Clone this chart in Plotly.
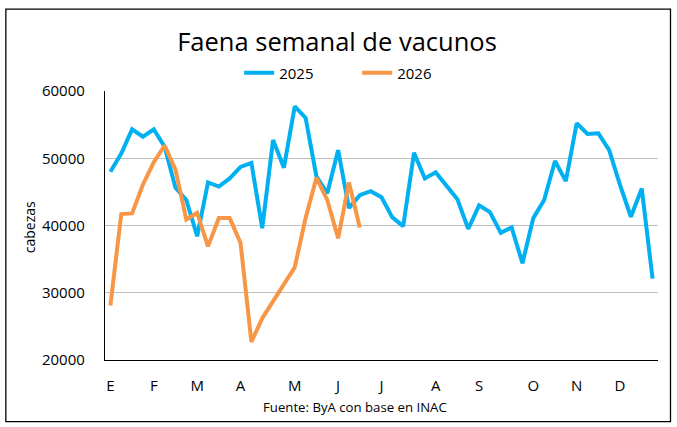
import plotly.graph_objects as go

# ---- data ----
weeks_2025 = list(range(51))
faena_2025 = [48000, 50700, 54300, 53200, 54300, 51700, 45600, 43800, 38400, 46400,
              45800, 47000, 48700, 49300, 39600, 52700, 48600, 57700, 56000, 47300,
              44800, 51200, 42600, 44500, 45100, 44200, 41200, 39900, 50800, 47000,
              47900, 46000, 43900, 39500, 43000, 42000, 38900, 39700, 34400, 41100,
              43800, 49600, 46600, 55200, 53600, 53700, 51200, 46000, 41300, 45500,
              32100]
weeks_2026 = list(range(24))
faena_2026 = [28100, 41700, 41800, 46100, 49400, 51900, 48300, 40900, 41900, 36900,
              41100, 41100, 37400, 22700, 26200, 28700, 31100, 33800, 41100, 47100,
              43800, 38100, 46400, 39700]
month_weeks = [0, 4, 8, 12, 17, 21, 25, 30, 34, 39, 43, 47]
month_labels = ["E", "F", "M", "A", "M", "J", "J", "A", "S", "O", "N", "D"]
y_ticks = [20000, 30000, 40000, 50000, 60000]

# ---- layout geometry (pixels) ----
W, H = 677, 427
PL, PR, PT, PB = 104.7, 658.0, 91.0, 360.3
pw, ph = PR - PL, PB - PT


def px(x):
    return (x - PL) / pw


def py(y):
    return (PB - y) / ph


FONT = "Open Sans"

fig = go.Figure()
fig.add_trace(go.Scatter(x=weeks_2025, y=faena_2025, mode="lines", name="2025",
                         line=dict(color="#00B0F0", width=4)))
fig.add_trace(go.Scatter(x=weeks_2026, y=faena_2026, mode="lines", name="2026",
                         line=dict(color="#F79646", width=4)))

fig.update_layout(
    width=W, height=H, autosize=False,
    margin=dict(l=PL, r=W - PR, t=PT, b=H - PB, pad=0, autoexpand=False),
    paper_bgcolor="white", plot_bgcolor="white",
    font=dict(family=FONT, color="black", size=14),
    showlegend=True,
    legend=dict(orientation="h", x=px(357), xanchor="center",
                y=py(73), yanchor="middle", font=dict(size=15, family=FONT),
                entrywidth=73, itemwidth=30, bgcolor="rgba(0,0,0,0)"),
    title=dict(text="Faena semanal de vacunos", x=337 / W, xanchor="center",
               y=1 - 42 / H, yanchor="middle", xref="container", yref="container",
               font=dict(size=25.5, family=FONT, color="black")),
    xaxis=dict(range=[-0.5, 50.5], tickmode="array", tickvals=month_weeks,
               ticktext=month_labels, showgrid=False, zeroline=False,
               showline=True, linecolor="black", linewidth=1.3,
               ticks="", ticklabelstandoff=12, tickfont=dict(size=15)),
    yaxis=dict(range=[20000, 60000], tickmode="array", tickvals=y_ticks,
               ticktext=[str(v) for v in y_ticks],
               showgrid=True, gridcolor="#BFBFBF", gridwidth=1, zeroline=False,
               showline=True, linecolor="black", linewidth=1.3,
               ticks="", ticklabelstandoff=16, tickfont=dict(size=15)),
    annotations=[
        dict(text="cabezas", textangle=-90, x=px(30), y=py(227), xref="paper",
             yref="paper", showarrow=False, xanchor="center", yanchor="middle",
             font=dict(size=14, family=FONT)),
        dict(text="Fuente: ByA con base en INAC", x=px(355), y=py(407.5), xref="paper",
             yref="paper", showarrow=False, xanchor="center", yanchor="middle",
             font=dict(size=13.2, family=FONT)),
    ],
    shapes=[
        dict(type="rect", xref="paper", yref="paper", x0=px(5.5), x1=px(670.5),
             y0=py(422), y1=py(9), line=dict(color="black", width=1.3),
             fillcolor="rgba(0,0,0,0)", layer="below"),
    ],
)

fig.write_html("out.html")
